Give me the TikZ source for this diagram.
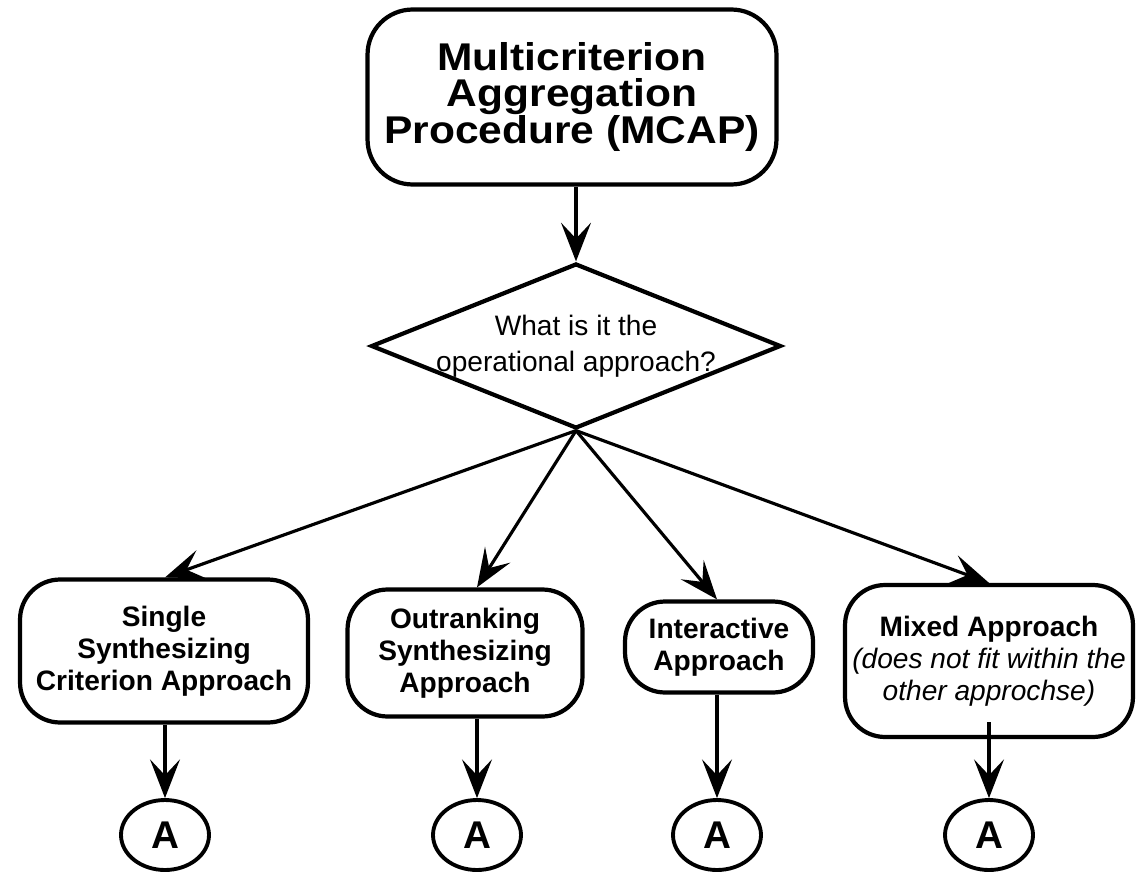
\documentclass[tikz,border=0pt]{standalone}
\usepackage{fontspec}
\setmainfont{Liberation Sans}
\newfontfamily\headfont[FakeStretch=1.1]{Liberation Sans}
\usetikzlibrary{shapes.geometric,arrows.meta}

\tikzset{
  proc/.style={draw, rectangle, rounded corners=0.8cm, line width=2.4pt, align=center, inner sep=0pt,
    font=\bfseries\fontsize{16}{18.2}\selectfont},
  offpage/.style={draw, ellipse, line width=2.2pt, minimum width=1.76cm, minimum height=1.4cm, inner sep=0pt,
    font=\bfseries\fontsize{22}{22}\selectfont},
  flow/.style={line width=1.8pt, -{Stealth[length=22pt,width=17pt,inset=9pt]}}
}

\begin{document}
\begin{tikzpicture}[x=0.02cm, y=-0.02cm]
    \useasboundingbox (0,0) rectangle (1136,872);

    \node[proc, rounded corners=0.9cm, minimum width=8.18cm, minimum height=3.5cm,
          font=\headfont\bfseries\fontsize{22}{21}\selectfont] (mcap) at (572,97) {Multicriterion\\Aggregation\\Procedure (MCAP)};
    \node[draw, diamond, line width=2.4pt, minimum width=8.2cm, minimum height=3.3cm, inner sep=0pt,
          label={[align=center, font=\fontsize{16}{20.5}\selectfont]center:What is it the\\operational approach?}] (choice) at (576,346) {};

    \node[proc, minimum width=5.76cm, minimum height=2.86cm] (single) at (164,651) {Single\\Synthesizing\\Criterion Approach};
    \node[proc, minimum width=4.7cm, minimum height=2.54cm] (outrank) at (465,653) {Outranking\\Synthesizing\\Approach};
    \node[proc, minimum width=3.76cm, minimum height=1.82cm] (inter) at (719,647) {Interactive\\Approach};
    \node[proc, minimum width=5.76cm, minimum height=3.04cm] (mixed) at (989,661) {Mixed Approach\\\textit{\mdseries (does not fit within the}\\\textit{\mdseries other approchse)}};

    \node[offpage] (a1) at (165,835) {A};
    \node[offpage] (a2) at (477,835) {A};
    \node[offpage] (a3) at (717,835) {A};
    \node[offpage] (a4) at (989,835) {A};

    \draw[flow] (mcap.south -| choice.north) -- (choice.north);
    \draw[flow] (choice.south) -- (single.north -| a1);
    \draw[flow] (choice.south) -- (outrank.north -| a2);
    \draw[flow] (choice.south) -- (inter.north -| a3);
    \draw[flow] (choice.south) -- (mixed.north -| a4);

    \draw[flow] (single.south -| a1) -- (a1);
    \draw[flow] (outrank.south -| a2) -- (a2);
    \draw[flow] (inter.south -| a3) -- (a3);
    \draw[flow] ([yshift=0.34cm]mixed.south -| a4) -- (a4);
\end{tikzpicture}
\end{document}
